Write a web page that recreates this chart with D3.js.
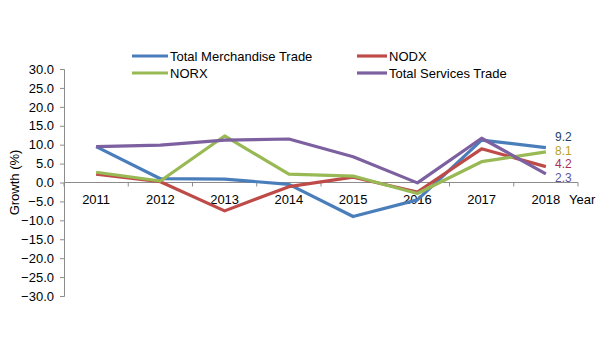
<!DOCTYPE html>
<html>
<head>
<meta charset="utf-8">
<script src="https://cdn.jsdelivr.net/npm/d3@7"></script>
<style>
  html, body { margin: 0; padding: 0; background: #ffffff; }
  svg { display: block; font-family: "Liberation Sans", Arial, sans-serif; }
</style>
</head>
<body>
<svg id="chart" width="600" height="360"></svg>
<script>
const years = ["2011", "2012", "2013", "2014", "2015", "2016", "2017", "2018"];
const totalMerchandise = [9.5, 1.0, 0.9, -0.5, -9.0, -4.6, 11.2, 9.2];
const nodx = [2.2, 0.2, -7.5, -1.1, 1.4, -2.5, 8.9, 4.2];
const norx = [2.7, 0.4, 12.3, 2.2, 1.7, -2.9, 5.5, 8.1];
const totalServices = [9.5, 9.9, 11.2, 11.5, 6.8, -0.1, 11.7, 2.3];
const seriesNames = ["Total Merchandise Trade", "NODX", "NORX", "Total Services Trade"];
const yTicks = [30, 25, 20, 15, 10, 5, 0, -5, -10, -15, -20, -25, -30];
const endLabels = ["9.2", "4.2", "8.1", "2.3"];

(function () {
const colors = ["#4A7EBB", "#BE4B48", "#98B954", "#7D60A0"];
const labelColors = ["#1F3F6E", "#A8305A", "#B8A21C", "#5E58A0"];
const labelDy = [-10.7, -2.6, -1.4, 3.7];

const svg = d3.select("#chart");
const pLeft = 64, pRight = 578, pTop = 69, pBottom = 296;

const x = d3.scaleBand().domain(years).range([pLeft, pRight]);
const y = d3.scaleLinear().domain([-30, 30]).range([pBottom, pTop]);

// Y axis
const yAxis = d3.axisLeft(y).tickValues(yTicks).tickSize(4).tickPadding(6)
  .tickFormat(d => d3.format(".1f")(d));
const gy = svg.append("g").attr("transform", `translate(${pLeft},0)`).call(yAxis);
gy.select(".domain").attr("stroke", "#8c8c8c");
gy.selectAll(".tick line").attr("stroke", "#8c8c8c");
gy.selectAll(".tick text").attr("font-size", 13).attr("fill", "#000")
  .attr("font-family", "Liberation Sans, Arial, sans-serif");

// X axis at zero
const zeroY = y(0);
const gx = svg.append("g").attr("transform", `translate(0,${zeroY})`);
gx.append("line").attr("x1", pLeft).attr("x2", pRight).attr("y1", 0).attr("y2", 0)
  .attr("stroke", "#8c8c8c");
const boundaries = years.map(d => x(d) + x.bandwidth()).concat([pLeft]);
gx.selectAll("line.tk").data(boundaries).enter().append("line")
  .attr("class", "tk")
  .attr("x1", d => d).attr("x2", d => d).attr("y1", 0).attr("y2", 4)
  .attr("stroke", "#8c8c8c");
gx.selectAll("text.yr").data(years).enter().append("text")
  .attr("class", "yr")
  .attr("x", d => x(d) + x.bandwidth() / 2)
  .attr("y", 17)
  .attr("dy", "0.35em")
  .attr("text-anchor", "middle")
  .attr("font-size", 13)
  .text(d => d);
gx.append("text").attr("x", 569).attr("y", 17).attr("dy", "0.35em")
  .attr("font-size", 13).text("Year");

// Y axis title
svg.append("text")
  .attr("transform", `translate(14,${(pTop + pBottom) / 2}) rotate(-90)`)
  .attr("text-anchor", "middle")
  .attr("dy", "0.35em")
  .attr("font-size", 13)
  .text("Growth (%)");

// Lines
const allSeries = [totalMerchandise, nodx, norx, totalServices];
const line = d3.line()
  .x((d, i) => x(years[i]) + x.bandwidth() / 2)
  .y(d => y(d));
allSeries.forEach((s, i) => {
  svg.append("path").datum(s)
    .attr("d", line)
    .attr("fill", "none")
    .attr("stroke", colors[i])
    .attr("stroke-width", 3.2)
    .attr("stroke-linejoin", "round");
});

// End labels
allSeries.forEach((s, i) => {
  svg.append("text")
    .attr("x", 555)
    .attr("y", y(s[s.length - 1]) + labelDy[i])
    .attr("dy", "0.35em")
    .attr("font-size", 12)
    .attr("fill", labelColors[i])
    .text(endLabels[i]);
});

// Legend
const legendPos = [
  { lx: 132, tx: 170, y: 56 },
  { lx: 357, tx: 389, y: 56 },
  { lx: 132, tx: 170, y: 73 },
  { lx: 357, tx: 389, y: 73 }
];
const lg = svg.append("g");
seriesNames.forEach((name, i) => {
  const p = legendPos[i];
  lg.append("line").attr("x1", p.lx).attr("x2", p.tx - 2)
    .attr("y1", p.y).attr("y2", p.y)
    .attr("stroke", colors[i]).attr("stroke-width", 3.2);
  lg.append("text").attr("x", p.tx).attr("y", p.y).attr("dy", "0.35em")
    .attr("font-size", 13).text(name);
});
})();
</script>
</body>
</html>
